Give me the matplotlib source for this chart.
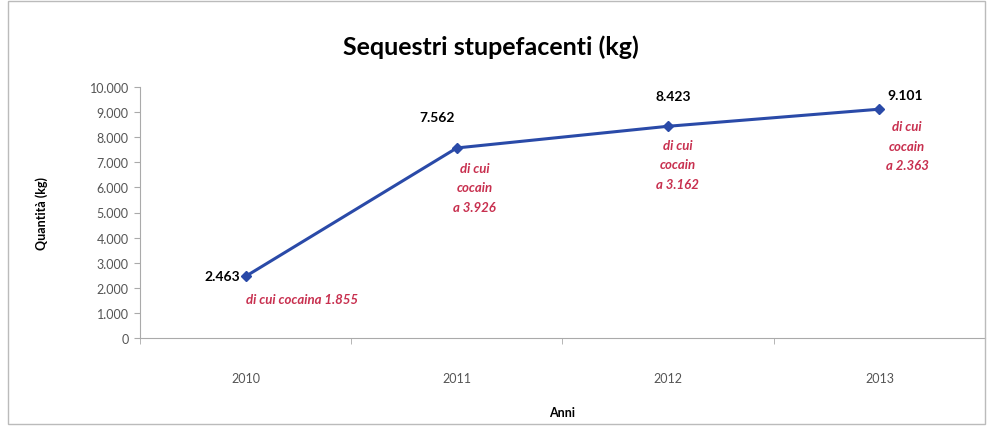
import matplotlib.pyplot as plt
from matplotlib.patches import Rectangle

anni = ['2010', '2011', '2012', '2013']
quantita = [2463, 7562, 8423, 9101]
etichette = ['2.463', '7.562', '8.423', '9.101']
note_cocaina = ['di cui cocaina 1.855', 'di cui\ncocain\na 3.926',
                'di cui\ncocain\na 3.162', 'di cui\ncocain\na 2.363']
yticks = list(range(0, 10001, 1000))
ytick_labels = ['0', '1.000', '2.000', '3.000', '4.000', '5.000',
                '6.000', '7.000', '8.000', '9.000', '10.000']

plt.rcParams['font.family'] = ['Lato', 'DejaVu Sans']

fig = plt.figure(figsize=(9.92, 4.27), dpi=100)
ax = fig.add_axes([0.141, 0.205, 0.852, 0.59])

x = list(range(len(anni)))
ax.plot(x, quantita, color='#2a4aa8', lw=2.2, marker='D', ms=5)

ax.set_xlim(-0.5, 3.5)
ax.set_ylim(0, 10000)
ax.set_yticks(yticks)
ax.set_yticklabels(ytick_labels, fontsize=9, color='#555555')
ax.set_xticks(x)
ax.set_xticklabels(anni, fontsize=9, color='#555555')
ax.set_xticks([-0.5, 0.5, 1.5, 2.5, 3.5], minor=True)
ax.tick_params(axis='x', which='major', length=0, pad=24)
ax.tick_params(axis='x', which='minor', length=4, color='#aaaaaa')
ax.tick_params(axis='y', length=4, color='#aaaaaa', pad=4)
for s in ['top', 'right']:
    ax.spines[s].set_visible(False)
ax.spines['left'].set_color('#aaaaaa')
ax.spines['bottom'].set_color('#aaaaaa')

fig.text(0.495, 0.89, 'Sequestri stupefacenti (kg)', ha='center', va='center',
         fontsize=18, fontweight='bold')
ax.set_xlabel('Anni', fontsize=9, fontweight='bold', labelpad=16)
ax.set_ylabel('Quantità (kg)', fontsize=9, fontweight='bold', labelpad=30)

# etichette dei valori
val_off = [(-4, 0), (-14, 22), (4, 22), (6, 10)]
val_ha = ['right', 'center', 'center', 'left']
for i in x:
    ax.annotate(etichette[i], (i, quantita[i]), xytext=val_off[i], textcoords='offset points',
                ha=val_ha[i], va='center', fontsize=10, fontweight='bold', color='black')

# note cocaina
note_off = [(0, -12), (13, -10), (7, -9), (20, -8)]
note_ha = ['left', 'center', 'center', 'center']
for i in x:
    ax.annotate(note_cocaina[i], (i, quantita[i]), xytext=note_off[i], textcoords='offset points',
                ha=note_ha[i], va='top', fontsize=9.5, fontweight='bold', fontstyle='italic',
                color='#c8304f', linespacing=1.75)

fig.patches.append(Rectangle((0.008, 0.005), 0.985, 0.99, transform=fig.transFigure,
                             fill=False, edgecolor='#bbbbbb', lw=1))

fig.savefig('out.png', dpi=100)
